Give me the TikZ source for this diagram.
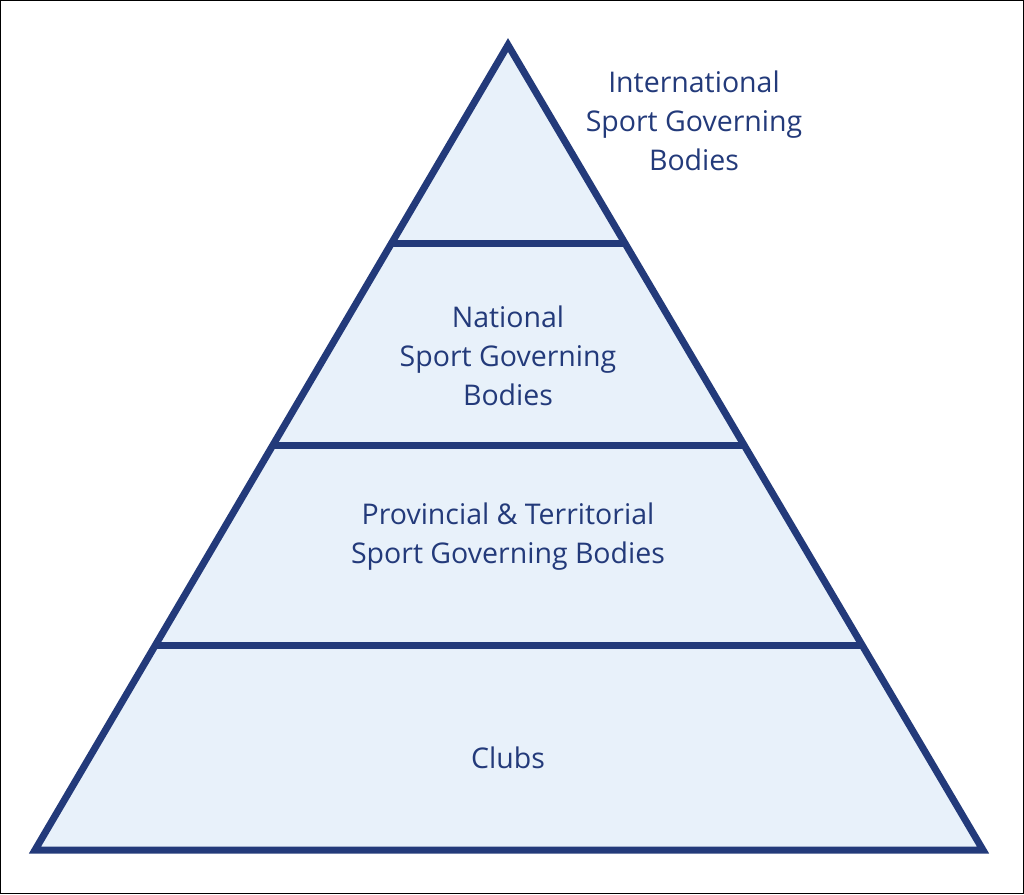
\documentclass[tikz,border=0pt]{standalone}
\usepackage{fontspec}
\setmainfont{Open Sans}
\definecolor{navy}{HTML}{233A7A}
\definecolor{paleblue}{HTML}{E8F1FA}
\tikzset{
  level/.style = {fill = paleblue},
  tier/.style  = {align = center, text = navy, font = \fontsize{28.5}{39}\selectfont}
}
\begin{document}
\begin{tikzpicture}[x = 1pt, y = -1pt]
\draw[black, line width = 1pt] (0.5, 0.5) rectangle (1023.5, 893.5);

\coordinate (top)   at (508, 45);
\coordinate (bl)    at (35, 850);
\coordinate (br)    at (983, 850);
\coordinate (l1)    at (392, 243);
\coordinate (r1)    at (624, 243);
\coordinate (l2)    at (273, 445);
\coordinate (r2)    at (743, 445);
\coordinate (l3)    at (155, 645);
\coordinate (r3)    at (861, 645);

\fill[level] (top) -- (bl) -- (br) -- cycle;
\draw[navy, line width = 7pt] (l1) -- (r1);
\draw[navy, line width = 7pt] (l2) -- (r2);
\draw[navy, line width = 7pt] (l3) -- (r3);
\draw[navy, line width = 7pt, line join = miter] (top) -- (bl) -- (br) -- cycle;

\node[tier] (intl) at (694, 121) {International\\Sport Governing\\Bodies};
\node[tier] (natl) at (508, 356) {National\\Sport Governing\\Bodies};
\node[tier] (prov) at (508, 537) {Provincial \& Territorial\\Sport Governing Bodies};
\node[tier] (club) at (508, 758) {Clubs};
\end{tikzpicture}
\end{document}
